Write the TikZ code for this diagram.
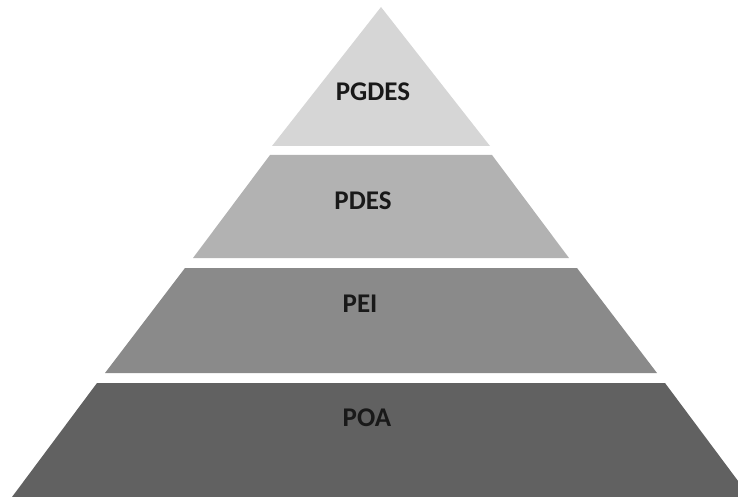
\documentclass[tikz,border=0pt]{standalone}
\usepackage{fontspec}
\setmainfont{Carlito}
\begin{document}
\begin{tikzpicture}[x=1pt,y=-1pt,
  layer/.style={draw=none},
  lbl/.style={font=\fontsize{27}{31}\selectfont\bfseries, text=black!90}]
\useasboundingbox (0,0) rectangle (738,497);
\definecolor{cA}{gray}{0.84}
\definecolor{cB}{gray}{0.70}
\definecolor{cC}{gray}{0.54}
\definecolor{cD}{gray}{0.38}
\begin{scope}
\clip (0,0) rectangle (738,497);
\fill[layer,cA] (381,7) -- (490,146) -- (272,146) -- cycle;
\fill[layer,cB] (270,155) -- (492,155) -- (569,258) -- (193,258) -- cycle;
\fill[layer,cC] (185,268) -- (577,268) -- (657,373) -- (105,373) -- cycle;
\fill[layer,cD] (97,383) -- (665,383) -- (750,497) -- (12,497) -- cycle;
\end{scope}
\node[lbl] (pgdes) at (373,92) {PGDES};
\node[lbl] (pdes) at (363,201) {PDES};
\node[lbl] (pei) at (360,304) {PEI};
\node[lbl] (poa) at (367,418) {POA};
\end{tikzpicture}
\end{document}
